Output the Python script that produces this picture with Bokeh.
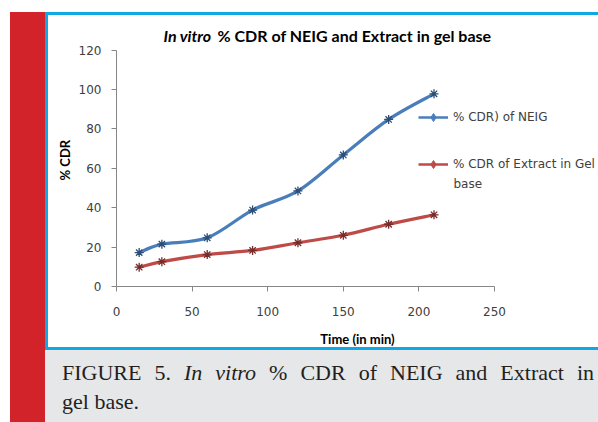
import numpy as np
from bokeh.plotting import figure
from bokeh.layouts import column
from bokeh.models import Range1d, Label, Legend, LegendItem, Div, Title
from bokeh.embed import file_html
from bokeh.resources import INLINE

# ---------------- data ----------------
time_min = [15, 30, 60, 90, 120, 150, 180, 210]
cdr_neig = [17.2, 21.5, 24.7, 38.8, 48.5, 66.8, 84.8, 97.8]
cdr_extract = [9.8, 12.6, 16.2, 18.3, 22.2, 26.0, 31.6, 36.4]
x_ticks = [0, 50, 100, 150, 200, 250]
y_ticks = [0, 20, 40, 60, 80, 100, 120]
x_bounds = (0, 250)
y_bounds = (0, 120)
title_italic = "In vitro"
title_rest = "% CDR of NEIG and Extract in gel base"
x_label = "Time (in min)"
y_label = "% CDR"
legend_neig = "% CDR) of NEIG"
legend_extract = "% CDR of Extract in Gel"
legend_extract_2 = "base"
caption_line1 = "FIGURE 5. <i>In vitro</i> % CDR of NEIG and Extract in"
caption_line2 = "gel base."

BLUE = "#4a7ebb"
BLUE_DARK = "#2c4d75"
RED = "#be4b48"
RED_DARK = "#772c2a"
TXT = "#404040"
CYAN = "#10a8e4"
REDBAR = "#d2232a"
GREY = "#e6e7e9"


def smooth_segments(xs, ys):
    x = np.asarray(xs, float)
    y = np.asarray(ys, float)
    n = len(x)
    xp = np.concatenate([[x[0]], x, [x[-1]]])
    yp = np.concatenate([[y[0]], y, [y[-1]]])
    t = 1.0 / 6.0
    cx0 = xp[1:n] + (xp[2:n + 1] - xp[0:n - 1]) * t
    cy0 = yp[1:n] + (yp[2:n + 1] - yp[0:n - 1]) * t
    cx1 = xp[2:n + 1] - (xp[3:n + 2] - xp[1:n]) * t
    cy1 = yp[2:n + 1] - (yp[3:n + 2] - yp[1:n]) * t
    return dict(x0=x[:-1], y0=y[:-1], x1=x[1:], y1=y[1:],
                cx0=cx0, cy0=cy0, cx1=cx1, cy1=cy1)


FRAME_L, FRAME_W, FRAME_H = 116, 482, 286
px_x = (494 - 116) / 250.0
px_y = (285.7 - 49.3) / 120.0

p = figure(width=598, height=350, frame_width=FRAME_W, frame_height=FRAME_H,
           x_range=Range1d(0, FRAME_W / px_x), y_range=Range1d(0, FRAME_H / px_y),
           output_backend="svg", toolbar_location=None,
           min_border_left=FRAME_L, min_border_right=0,
           min_border_top=0, min_border_bottom=64)
p.outline_line_color = None
p.background_fill_color = None
p.border_fill_color = None
p.xgrid.visible = False
p.ygrid.visible = False
p.styles = {
    "background": (
        f"linear-gradient({CYAN},{CYAN}) 45px 12px / 553px 3px no-repeat, "
        f"linear-gradient({CYAN},{CYAN}) 45px 12px / 3px 338px no-repeat, "
        f"linear-gradient({CYAN},{CYAN}) 45px 347px / 553px 3px no-repeat, "
        f"linear-gradient({REDBAR},{REDBAR}) 10px 12px / 35px 338px no-repeat, "
        "white"
    )
}

for ax in (p.xaxis[0], p.yaxis[0]):
    ax.axis_line_color = "#868686"
    ax.major_tick_line_color = "#868686"
    ax.major_tick_out = 5
    ax.major_tick_in = 0
    ax.minor_tick_line_color = None
    ax.major_label_text_font = "DejaVu Sans"
    ax.major_label_text_font_size = "12px"
    ax.major_label_text_color = TXT
    ax.axis_label_text_font = "Lato"
    ax.axis_label_text_font_style = "bold"
    ax.axis_label_text_font_size = "13px"
    ax.axis_label_text_color = "black"
p.xaxis.ticker = x_ticks
p.yaxis.ticker = y_ticks
p.xaxis.bounds = x_bounds
p.yaxis.bounds = y_bounds
p.xaxis.major_label_standoff = 15
p.yaxis.major_label_standoff = 10
p.xaxis.axis_label = x_label
p.xaxis.axis_label_standoff = 12

# y axis title, positioned along the axis
p.add_layout(Title(text=y_label, align="left", offset=106, vertical_align="bottom",
                   standoff=6, text_font="Lato", text_font_style="bold",
                   text_font_size="13px", text_color="black"), "left")

# series
for xs, ys, col, dark in ((time_min, cdr_neig, BLUE, BLUE_DARK),
                          (time_min, cdr_extract, RED, RED_DARK)):
    seg = smooth_segments(xs, ys)
    p.bezier(x0="x0", y0="y0", x1="x1", y1="y1", cx0="cx0", cy0="cy0",
             cx1="cx1", cy1="cy1", source=seg, line_color=col, line_width=3.2)
    p.scatter(xs, ys, marker="asterisk", size=9, line_color=dark, line_width=1.3)

# legend (hidden representative renderers)
l1 = p.line(time_min, cdr_neig, line_color=BLUE, line_width=2.5, visible=False)
m1 = p.scatter(time_min, cdr_neig, marker="diamond", size=8, fill_color=BLUE,
               line_color=BLUE, visible=False)
l2 = p.line(time_min, cdr_extract, line_color=RED, line_width=2.5, visible=False)
m2 = p.scatter(time_min, cdr_extract, marker="diamond", size=8, fill_color=RED,
               line_color=RED, visible=False)
legend = Legend(items=[LegendItem(label=legend_neig, renderers=[l1, m1]),
                       LegendItem(label=legend_extract, renderers=[l2, m2])],
                location=(302, 112), orientation="vertical",
                glyph_width=30, glyph_height=20, label_height=20,
                spacing=27, padding=0, margin=0, label_standoff=5,
                border_line_color=None, background_fill_alpha=0,
                label_text_font="DejaVu Sans", label_text_font_size="12px",
                label_text_color=TXT)
p.add_layout(legend, "center")


def lab(text, x, y, size, font="Lato", style="bold", color="black",
        align="left", baseline="middle", angle=0):
    p.add_layout(Label(x=x, y=y, x_units="canvas", y_units="canvas", text=text,
                       text_font=font, text_font_size=size, text_font_style=style,
                       text_color=color, text_align=align, text_baseline=baseline,
                       angle=angle))

# title
lab(title_italic, 163, 35, "16px", style="bold italic")
lab(title_rest, 217, 35, "16px")
# legend second line
lab(legend_extract_2, 453, 183, "12px", font="DejaVu Sans", style="normal",
    color=TXT)

caption_html = (
    f'<div style="position:relative;margin:0;width:598px;height:72px;background:'
    f'linear-gradient({REDBAR},{REDBAR}) 10px 0 / 35px 72px no-repeat, '
    f'linear-gradient({GREY},{GREY}) 45px 0 / 553px 72px no-repeat, white;'
    f'font-family:\'Liberation Serif\';font-size:22px;color:#231f20;">'
    f'<div style="position:absolute;left:62px;top:8px;width:532px;line-height:29px;'
    f'text-align:justify;text-align-last:justify;white-space:nowrap;">{caption_line1}</div>'
    f'<div style="position:absolute;left:62px;top:37px;line-height:29px;'
    f'white-space:nowrap;">{caption_line2}</div>'
    f'</div>'
)
caption = Div(text=caption_html, width=598, height=72, margin=0)

layout = column(p, caption, spacing=0)
open("out.html", "w").write(file_html(layout, INLINE))
